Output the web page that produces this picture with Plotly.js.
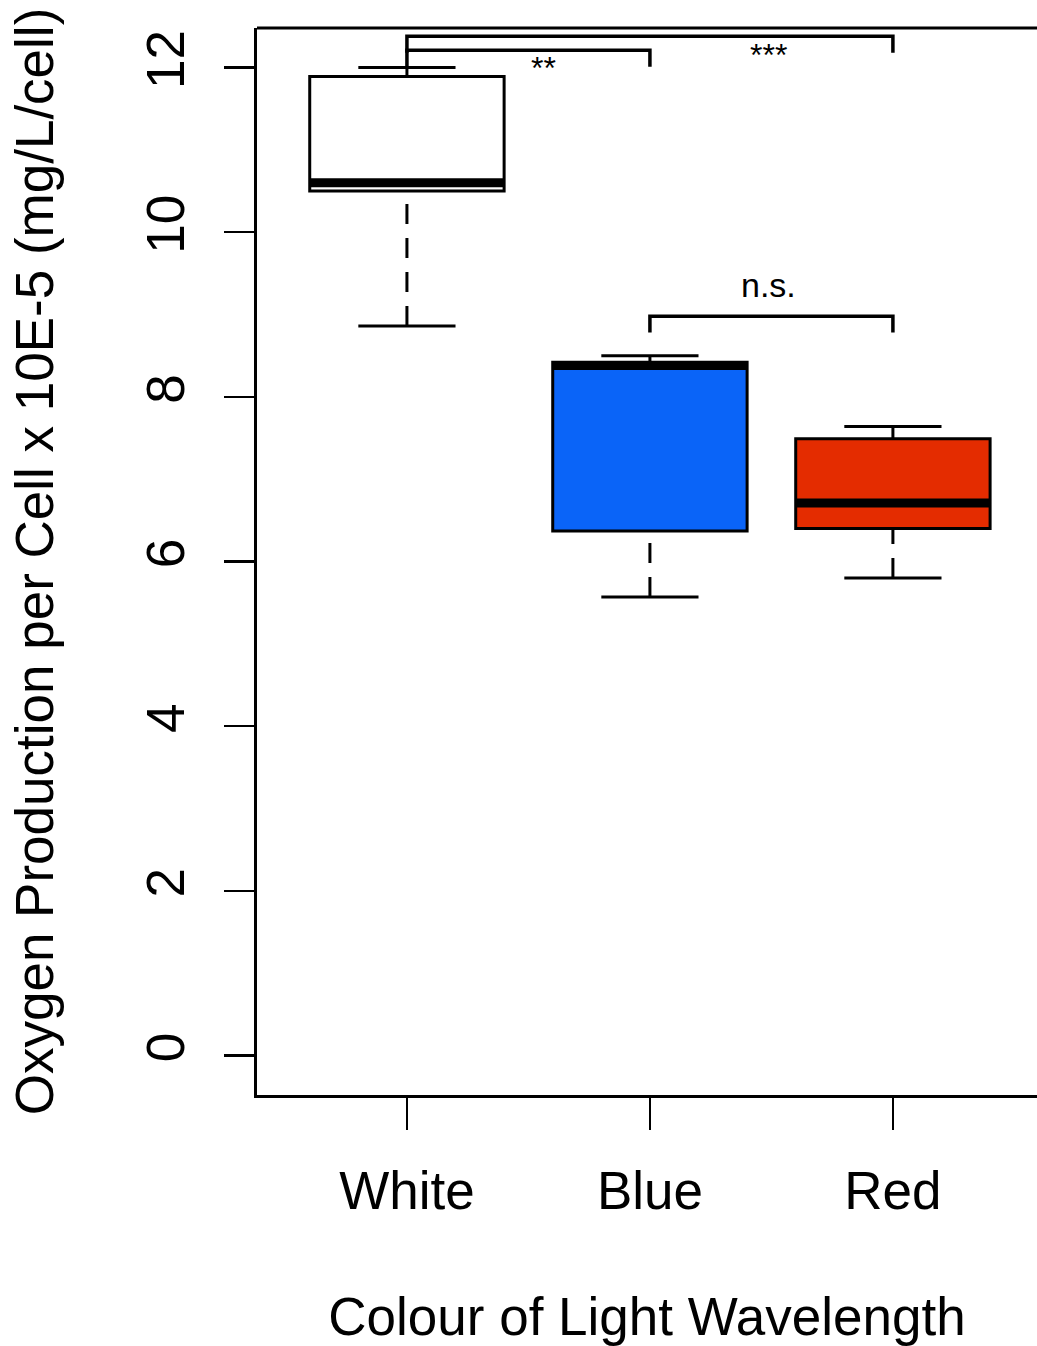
<!DOCTYPE html>
<html>
<head>
<meta charset="utf-8">
<script src="https://cdn.plot.ly/plotly-3.0.1.min.js"></script>
<style>
  html, body { margin: 0; padding: 0; background: #ffffff; }
  #chart { width: 1037px; height: 1346px; }
</style>
</head>
<body>
<div id="chart"></div>
<script>
// ---- data ----
const categories   = ['White', 'Blue', 'Red'];
const whiskerLow   = [8.86, 5.57, 5.80];
const q1Values     = [10.50, 6.37, 6.40];
const medianValues = [10.60, 8.38, 6.71];
const q3Values     = [11.89, 8.42, 7.49];
const whiskerHigh  = [12.00, 8.50, 7.64];

// significance comparisons (category indices, 1-based)
const compFrom   = [1, 1, 2];
const compTo     = [2, 3, 3];
const compLabels = ['**', '***', 'n.s.'];
const compHeight = [12.21, 12.38, 8.98];
const compLabelX = [1.56, 2.49, 2.49];
const compLabelY = [12.00, 12.15, 9.36];

const yTickValues = [0, 2, 4, 6, 8, 10, 12];

// ---- styles ----
const fillColors = ['#ffffff', '#0a64f8', '#e42c00'];
const BOX_WIDTH = 0.8;
const CAP_HALF = 0.2;
const BRACKET_DROP = 0.2;
const FONT = '"Liberation Sans", Arial, Helvetica, sans-serif';
const BIG = 53;

const traces = [];
const positions = categories.map((c, i) => i + 1);

// boxes (whiskers drawn separately, dashed as in R)
categories.forEach((c, i) => {
  traces.push({
    type: 'box',
    name: c,
    x: [positions[i]],
    q1: [q1Values[i]],
    median: [medianValues[i]],
    q3: [q3Values[i]],
    lowerfence: [q1Values[i]],
    upperfence: [q3Values[i]],
    width: BOX_WIDTH,
    whiskerwidth: 0,
    fillcolor: fillColors[i],
    line: { color: '#000000', width: 3 },
    hoverinfo: 'skip',
    showlegend: false
  });
});

// whiskers, caps and thick medians
categories.forEach((c, i) => {
  const p = positions[i];
  const base = { type: 'scatter', mode: 'lines', hoverinfo: 'skip', showlegend: false };
  traces.push(Object.assign({}, base, {
    x: [p, p], y: [whiskerLow[i], q1Values[i]],
    line: { color: '#000000', width: 3, dash: '20px,14px' }
  }));
  traces.push(Object.assign({}, base, {
    x: [p, p], y: [whiskerHigh[i], q3Values[i]],
    line: { color: '#000000', width: 3, dash: '20px,14px' }
  }));
  traces.push(Object.assign({}, base, {
    x: [p - CAP_HALF, p + CAP_HALF], y: [whiskerLow[i], whiskerLow[i]],
    line: { color: '#000000', width: 3 }
  }));
  traces.push(Object.assign({}, base, {
    x: [p - CAP_HALF, p + CAP_HALF], y: [whiskerHigh[i], whiskerHigh[i]],
    line: { color: '#000000', width: 3 }
  }));
  traces.push(Object.assign({}, base, {
    x: [p - BOX_WIDTH / 2, p + BOX_WIDTH / 2], y: [medianValues[i], medianValues[i]],
    line: { color: '#000000', width: 9 }
  }));
});

// significance brackets
compFrom.forEach((a, k) => {
  const b = compTo[k];
  const h = compHeight[k];
  traces.push({
    type: 'scatter', mode: 'lines', hoverinfo: 'skip', showlegend: false,
    x: [a, a, b, b],
    y: [h - BRACKET_DROP, h, h, h - BRACKET_DROP],
    line: { color: '#000000', width: 3.5 }
  });
});

const annotations = compLabels.map((t, k) => ({
  x: compLabelX[k], y: compLabelY[k], xref: 'x', yref: 'y',
  text: t, showarrow: false, xanchor: 'center', yanchor: 'middle',
  font: { family: FONT, size: t === 'n.s.' ? 34 : 32, color: '#000000' }
}));

const layout = {
  width: 1037,
  height: 1346,
  margin: { l: 257, r: 0, t: 28, b: 251, pad: 0 },
  paper_bgcolor: '#ffffff',
  plot_bgcolor: '#ffffff',
  font: { family: FONT, color: '#000000' },
  showlegend: false,
  xaxis: {
    range: [0.383, 3.593],
    tickmode: 'array',
    tickvals: positions,
    ticktext: categories,
    ticks: 'outside', ticklen: 32, tickwidth: 2.5, tickcolor: '#000000',
    showline: true, linewidth: 3, linecolor: '#000000',
    showgrid: false, zeroline: false, fixedrange: true,
    tickfont: { family: FONT, size: BIG, color: '#000000' },
    ticklabelstandoff: 15,
    title: { text: 'Colour of Light Wavelength', font: { family: FONT, size: BIG, color: '#000000' }, standoff: 86 },
    automargin: false
  },
  yaxis: {
    range: [-0.48, 12.48],
    tickmode: 'array',
    tickvals: yTickValues,
    ticktext: yTickValues.map(String),
    tickangle: -90,
    ticks: 'outside', ticklen: 30, tickwidth: 2.5, tickcolor: '#000000',
    showline: true, linewidth: 3, linecolor: '#000000',
    showgrid: false, zeroline: false, fixedrange: true,
    tickfont: { family: FONT, size: BIG, color: '#000000' },
    ticklabelstandoff: 19,
    title: { text: 'Oxygen Production per Cell x 10E-5 (mg/L/cell)', font: { family: FONT, size: BIG, color: '#000000' }, standoff: 66 },
    automargin: false
  },
  shapes: [{
    type: 'line', xref: 'paper', yref: 'paper', x0: 0, x1: 1, y0: 1, y1: 1,
    line: { color: '#000000', width: 3 }
  }],
  annotations: annotations
};

Plotly.newPlot('chart', traces, layout, { displayModeBar: false, staticPlot: true });
</script>
</body>
</html>
